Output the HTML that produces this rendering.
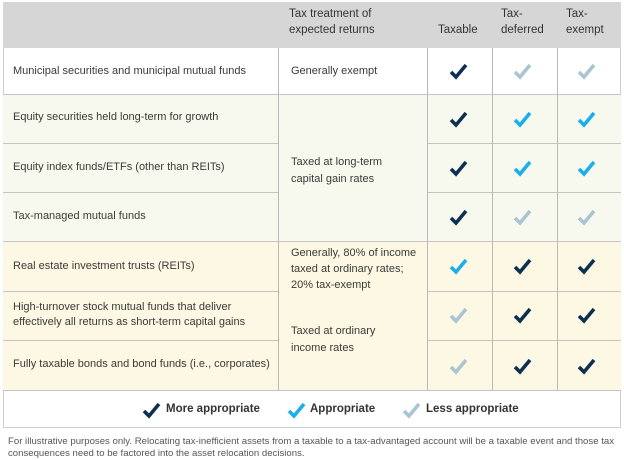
<!DOCTYPE html>
<html><head><style>
body{margin:0;width:624px;height:460px;background:#fff;font-family:"Liberation Sans",sans-serif;color:#3a3a3a;position:relative;overflow:hidden}
div{position:absolute;box-sizing:border-box}
.t{font-size:11px;line-height:15px}
.h{font-size:11.5px;line-height:16px;color:#333}
.vl{width:1px;background:#b9b9b9}
.hl{height:1px;background:#c4c4c4}
svg{position:absolute}
</style></head><body>
<div style="left:3px;top:2px;width:618px;height:426px;border:1px solid #cfcfcf"></div>
<div style="left:3px;top:2px;width:618px;height:46px;background:#d6d6d6"></div>
<div style="left:3px;top:94px;width:618px;height:147px;background:#f8f9ee"></div>
<div style="left:3px;top:241px;width:618px;height:149px;background:#fcf8e3"></div>
<div class="hl" style="left:3px;top:94px;width:618px"></div>
<div class="hl" style="left:3px;top:143px;width:275px"></div>
<div class="hl" style="left:427px;top:143px;width:194px"></div>
<div class="hl" style="left:3px;top:192px;width:275px"></div>
<div class="hl" style="left:427px;top:192px;width:194px"></div>
<div class="hl" style="left:3px;top:241px;width:618px"></div>
<div class="hl" style="left:3px;top:291px;width:275px"></div>
<div class="hl" style="left:427px;top:291px;width:194px"></div>
<div class="hl" style="left:3px;top:340px;width:275px"></div>
<div class="hl" style="left:427px;top:340px;width:194px"></div>
<div class="hl" style="left:3px;top:390px;width:618px"></div>
<div class="vl" style="left:278px;top:48px;height:342px"></div>
<div class="vl" style="left:427px;top:48px;height:342px"></div>
<div class="vl" style="left:492px;top:48px;height:342px"></div>
<div class="vl" style="left:557px;top:48px;height:342px"></div>
<div class="h" style="left:289px;top:6px">Tax treatment of<br>expected returns</div>
<div class="h" style="left:438px;top:22px">Taxable</div>
<div class="h" style="left:501px;top:6px">Tax-<br>deferred</div>
<div class="h" style="left:566px;top:6px">Tax-<br>exempt</div>
<div class="t" style="left:13px;top:64px">Municipal securities and municipal mutual funds</div>
<div class="t" style="left:13px;top:110px">Equity securities held long-term for growth</div>
<div class="t" style="left:13px;top:160px">Equity index funds/ETFs (other than REITs)</div>
<div class="t" style="left:13px;top:209px">Tax-managed mutual funds</div>
<div class="t" style="left:13px;top:259px">Real estate investment trusts (REITs)</div>
<div class="t" style="left:13px;top:300px">High-turnover stock mutual funds that deliver<br>effectively all returns as short-term capital gains</div>
<div class="t" style="left:13px;top:357px">Fully taxable bonds and bond funds (i.e., corporates)</div>
<div class="t" style="left:291px;top:64px">Generally exempt</div>
<div class="t" style="left:291px;top:154px;line-height:17px">Taxed at long-term<br>capital gain rates</div>
<div class="t" style="left:291px;top:245px;line-height:16px">Generally, 80% of income<br>taxed at ordinary rates;<br>20% tax-exempt</div>
<div class="t" style="left:291px;top:323px;line-height:17px">Taxed at ordinary<br>income rates</div>
<svg width="0" height="0"><defs><path id="c" d="M1 9 L6 14 L16 2" fill="none" stroke-width="3.6" stroke-linecap="butt"/></defs></svg>
<svg style="left:0;top:0" width="624" height="460">
<g stroke="#0f2f52"><use href="#c" x="450" y="63"/><use href="#c" x="450" y="111"/><use href="#c" x="450" y="160"/><use href="#c" x="450" y="209"/>
<use href="#c" x="514" y="258"/><use href="#c" x="578" y="258"/><use href="#c" x="514" y="307"/><use href="#c" x="578" y="307"/><use href="#c" x="514" y="358"/><use href="#c" x="578" y="358"/><use href="#c" x="143" y="402"/></g>
<g stroke="#1aaeea"><use href="#c" x="514" y="111"/><use href="#c" x="578" y="111"/><use href="#c" x="514" y="160"/><use href="#c" x="578" y="160"/><use href="#c" x="450" y="258"/><use href="#c" x="288" y="402"/></g>
<g stroke="#a9c5d3"><use href="#c" x="514" y="63"/><use href="#c" x="578" y="63"/><use href="#c" x="514" y="209"/><use href="#c" x="578" y="209"/><use href="#c" x="450" y="307"/><use href="#c" x="450" y="358"/><use href="#c" x="403" y="402"/></g>
</svg>
<div style="left:166px;top:403px;font-size:11.5px;font-weight:bold;color:#333">More appropriate</div>
<div style="left:310px;top:403px;font-size:11.5px;font-weight:bold;color:#333">Appropriate</div>
<div style="left:426px;top:403px;font-size:11.5px;font-weight:bold;color:#333">Less appropriate</div>
<div style="left:8px;top:436px;font-size:9.6px;line-height:12px;color:#555;white-space:nowrap">For illustrative purposes only. Relocating tax-inefficient assets from a taxable to a tax-advantaged account will be a taxable event and those tax<br>consequences need to be factored into the asset relocation decisions.</div>
</body></html>
